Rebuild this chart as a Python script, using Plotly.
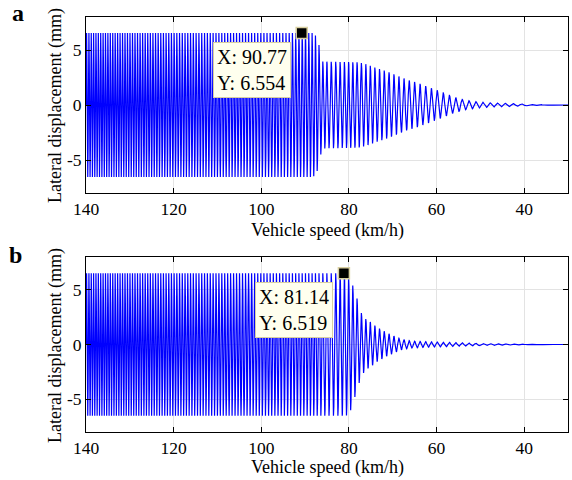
import numpy as np
import plotly.graph_objects as go

# ---------------- data ----------------
# Panel a: amplitude envelope (mm) vs vehicle speed (km/h)
a_env_speed = [140, 88.2, 87.6, 87.0, 86.6, 86.2, 80, 78, 77, 76, 74, 71.7, 69.2, 66.8,
               64.3, 61.7, 59, 56.3, 53.7, 51, 48, 44.2, 41.1, 37.5, 34.3, 32, 30]
a_env_amp = [6.554, 6.554, 6.3, 5.8, 5.0, 3.95, 3.9, 3.88, 3.8, 3.7, 3.4, 3.1, 2.7, 2.3,
             2.0, 1.6, 1.2, 0.75, 0.45, 0.3, 0.2, 0.15, 0.1, 0.05, 0.02, 0.0, 0.0]

# Panel b: amplitude envelope (mm) vs vehicle speed (km/h)
b_env_speed = [140, 80.6, 79.6, 78.8, 78.3, 77.2, 76.1, 74.9, 73.7, 72.5, 71.4, 70.2,
               69.1, 68.1, 67.0, 65.8, 62, 58, 54, 50, 45, 40, 36, 33, 30]
b_env_amp = [6.519, 6.519, 6.0, 5.0, 4.4, 2.9, 2.3, 2.0, 1.6, 1.33, 1.08, 0.87,
             0.66, 0.5, 0.41, 0.32, 0.25, 0.2, 0.15, 0.1, 0.07, 0.04, 0.02, 0.0, 0.0]

# Oscillation cycle spacing (km/h per cycle) read at several speeds
cycle_speed = [140, 130, 88, 84, 80, 70, 60, 45, 30]
cycle_spacing = [0.53, 0.57, 0.76, 1.03, 0.95, 1.12, 1.35, 1.75, 2.6]

# Data tips
tip_a = (90.77, 6.554)
tip_b = (81.14, 6.519)

x_ticks = [140, 120, 100, 80, 60, 40]
y_ticks = [-5, 0, 5]
y_ticktext = ["-5", "0", "5"]


def build_signal(env_speed, env_amp):
    v = np.linspace(140, 30, 40000)
    env = np.interp(v, env_speed[::-1], env_amp[::-1])
    dens = 1.0 / np.interp(v, cycle_speed[::-1], cycle_spacing[::-1])
    dv = np.abs(np.diff(v))
    n = np.concatenate([[0.0], np.cumsum(0.5 * (dens[1:] + dens[:-1]) * dv)])
    return v, env * np.sin(2 * np.pi * n)


va, ya = build_signal(a_env_speed, a_env_amp)
vb, yb = build_signal(b_env_speed, b_env_amp)

FONT = "'Liberation Serif', 'Times New Roman', serif"
W, H = 572, 480

fig = go.Figure()
fig.add_trace(go.Scatter(x=va, y=ya, mode="lines", line=dict(color="#0000ff", width=1.2),
                         xaxis="x", yaxis="y", hoverinfo="skip"))
fig.add_trace(go.Scatter(x=vb, y=yb, mode="lines", line=dict(color="#0000ff", width=1.2),
                         xaxis="x2", yaxis="y2", hoverinfo="skip"))
fig.add_trace(go.Scatter(x=[tip_a[0]], y=[tip_a[1]], mode="markers",
                         marker=dict(symbol="square", size=11, color="black",
                                     line=dict(color="#d8cfa0", width=1.5)),
                         xaxis="x", yaxis="y"))
fig.add_trace(go.Scatter(x=[tip_b[0]], y=[tip_b[1]], mode="markers",
                         marker=dict(symbol="square", size=11, color="black",
                                     line=dict(color="#d8cfa0", width=1.5)),
                         xaxis="x2", yaxis="y2"))

xdom = [86 / W, 568 / W]
ax_common = dict(showline=True, linecolor="black", linewidth=1, mirror="ticks",
                 ticks="inside", ticklen=5, tickcolor="black", showgrid=True,
                 gridcolor="#e3e3e3", gridwidth=1, zeroline=False, automargin=False,
                 tickfont=dict(family=FONT, size=17.5, color="black"))

fig.update_layout(
    width=W, height=H, margin=dict(l=0, r=0, t=0, b=0, autoexpand=False),
    paper_bgcolor="white", plot_bgcolor="white", showlegend=False,
    xaxis=dict(domain=xdom, range=[140, 30], tickvals=x_ticks, anchor="y", **ax_common),
    yaxis=dict(domain=[1 - 193 / H, 1 - 17 / H], range=[-8, 8], tickvals=y_ticks,
               ticktext=y_ticktext, anchor="x", **ax_common),
    xaxis2=dict(domain=xdom, range=[140, 30], tickvals=x_ticks, anchor="y2", **ax_common),
    yaxis2=dict(domain=[1 - 432 / H, 1 - 257 / H], range=[-8, 8], tickvals=y_ticks,
                ticktext=y_ticktext, anchor="x2", **ax_common),
)

ann = []
# axis titles
for yc in (106, 346):
    ann.append(dict(text="Lateral displacement (mm)", x=55 / W, y=1 - yc / H, xref="paper",
                    yref="paper", textangle=-90, showarrow=False, xanchor="center",
                    yanchor="middle", font=dict(family=FONT, size=18, color="black")))
for yc in (231, 467):
    ann.append(dict(text="Vehicle speed (km/h)", x=327 / W, y=1 - yc / H, xref="paper",
                    yref="paper", showarrow=False, xanchor="center", yanchor="middle",
                    font=dict(family=FONT, size=18, color="black")))
# panel labels
ann.append(dict(text="<b>a</b>", x=18 / W, y=1 - 13 / H, xref="paper", yref="paper",
                showarrow=False, xanchor="center", yanchor="middle",
                font=dict(family=FONT, size=24, color="black")))
ann.append(dict(text="<b>b</b>", x=15 / W, y=1 - 255 / H, xref="paper", yref="paper",
                showarrow=False, xanchor="center", yanchor="middle",
                font=dict(family=FONT, size=24, color="black")))
# data tips
for (tx, ty), (bx, by) in ((tip_a, (213, 42)), (tip_b, (255, 282))):
    ann.append(dict(text=f"X: {tx:.2f}<br>Y: {ty:.3f}",
                    x=bx / W, y=1 - by / H, xref="paper", yref="paper", showarrow=False,
                    xanchor="left", yanchor="top", align="left", bgcolor="#ffffee",
                    bordercolor="#d8cfa0", borderwidth=1, borderpad=3,
                    font=dict(family=FONT, size=20, color="black")))
fig.update_layout(annotations=ann)

fig.write_html("out.html")
